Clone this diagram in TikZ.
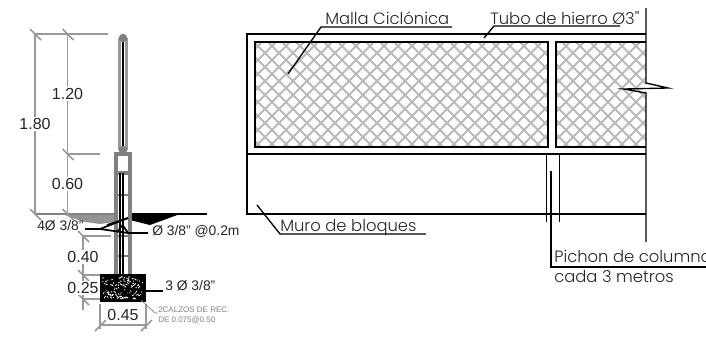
\documentclass[tikz,border=0pt]{standalone}
\usepackage{fontspec}
\setmainfont{Liberation Sans}
\newfontfamily\labelfont[UprightFont=* Light]{Poppins}
\begin{document}
\begin{tikzpicture}[x=0.75pt,y=-0.75pt]
      \useasboundingbox(0,0) rectangle (706,337);
      \tikzset{L/.style = {draw,black,line width=1pt}}
      \tikzset{W/.style = {draw,black,line width=1.1pt}}
      \tikzset{D/.style = {draw,black!40,line width=1.15pt}}
      \tikzset{C/.style = {draw,black!50,line width=3pt}}
      \tikzset{M/.style = {draw,black!27,line width=1.45pt}}
      \tikzset{T/.style = {font=\labelfont\fontsize{12.3}{13}\selectfont,inner sep=0pt,anchor=base west,text=black!85}}
      \tikzset{N/.style = {font=\fontsize{12}{12}\selectfont,fill=white,inner sep=1pt,text=black!85}}
      \tikzset{S/.style = {font=\fontsize{10.4}{12}\selectfont,inner sep=0pt,anchor=west,text=black!85}}
      \tikzset{G/.style = {font=\fontsize{6}{7}\selectfont,inner sep=0pt,anchor=west,text=black!50}}
      % cerca, malla
      \begin{scope}
        \clip (255,42) rectangle (548,147) (556,42) rectangle (646,147);
        \foreach \x in {130,144,...,660} {
          \draw[M](\x,30) -- (\x+130,160);
          \draw[M](\x+130,30) -- (\x,160);
        }
      \end{scope}
      \draw[W](255,42) rectangle (548,147);
      \draw[W](646,42) -- (556,42) -- (556,147) -- (646,147);
      \draw[L](646,34) -- (247,34) -- (247,214) -- (646,214);
      \draw[L](247,154) -- (646,154);
      \draw[L](646,8) -- (646,83) -- (668,88) -- (624,89) -- (646,93) -- (646,242);
      \draw[L](546.3,154) -- (546.3,222);
      \draw[L](559.7,154) -- (559.7,222);
      % textos de la cerca
      \node[T](malla) at (325,24) {Malla Ciclónica};
      \node[T](tubo) at (490,24) {Tubo de hierro Ø3''};
      \node[T](muro) at (280,231) {Muro de bloques};
      \node[T](pichon) at (554,262) {Pichon de columna};
      \node[T](cada) at (554,282) {cada 3 metros};
      \coordinate (mallaA) at (288,74);
      \coordinate (mallaB) at (321,27);
      \coordinate (mallaC) at (452,27);
      \coordinate (tuboA) at (484,38);
      \coordinate (tuboB) at (494,26);
      \coordinate (tuboC) at (620,26);
      \coordinate (muroA) at (257,205);
      \coordinate (muroB) at (280,234);
      \coordinate (muroC) at (426,234);
      \coordinate (pichonA) at (551,171);
      \coordinate (pichonB) at (551,267);
      \coordinate (pichonC) at (706,267);
      \draw[L](mallaA) -- (mallaB) -- (mallaC);
      \draw[L](tuboA) -- (tuboB) -- (tuboC);
      \draw[L](muroA) -- (muroB) -- (muroC);
      \draw[L](pichonA) -- (pichonB) -- (pichonC);
      % terreno
      \fill[black!42](63,214) -- (115,214) -- (115,222) -- (100,224) -- (85,222) -- (72,218) -- cycle;
      \fill[black](130,214) -- (180,214) -- (150,225) -- (130,220) -- cycle;
      \draw[L](130,214) -- (207,214);
      \draw[C,line width=1.8pt](35,214) -- (116,214);
      % poste
      \draw[D,line width=1.6pt](119.5,38) -- (119.5,150);
      \draw[D,line width=1.6pt](126.5,38) -- (126.5,150);
      \draw[L,line width=1.3pt](123,38) -- (123,150);
      \fill[black!50](123,38) circle (3.2pt);
      \fill[black!50](123,150) circle (3.2pt);
      % columna
      \draw[C](116,154) rectangle (130,173);
      \draw[C](116,173) -- (116,275);
      \draw[C](129.5,173) -- (129.5,275);
      \draw[C,line width=1.6pt](116,195) -- (130,195);
      \draw[C,line width=1.6pt](116,236) -- (130,236);
      \draw[C,line width=1.6pt](116,256) -- (130,256);
      \draw[L](120,173) -- (120,275);
      \draw[L](123,173) -- (123,275);
      % estribos
      \coordinate (tieA) at (85,229);
      \coordinate (tieB) at (100,229);
      \coordinate (tieC) at (128,218);
      \coordinate (tieD) at (128,233);
      \coordinate (tieE) at (148,233);
      \draw[L,line width=1.3pt](tieA) -- (tieB) -- (tieC);
      \draw[L,line width=1.3pt](tieB) -- (tieD) -- (tieE);
      \draw[L,line width=1.3pt](107,225) -- (128,218);
      \draw[L,line width=1.3pt](117,232) -- (122.7,225) -- (128,233);
      % zapata
      \fill[black](100,274) rectangle (146,302);
      \pgfmathsetseed{7}
      \foreach \i in {1,...,120} {
        \pgfmathsetmacro{\px}{103+40*rnd}
        \pgfmathsetmacro{\py}{277+22*rnd}
        \pgfmathsetmacro{\qx}{\px+4*rnd-2}
        \pgfmathsetmacro{\qy}{\py+3*rnd-1.5}
        \draw[white,line width=0.6pt](\px,\py) -- (\qx,\qy);
      }
      \draw[L](146,291) -- (163,291);
      % cotas
      \draw[D](35,34) -- (108,34);
      \draw[D](35,34) -- (35,214);
      \draw[D](67.5,34) -- (67.5,214);
      \draw[D](67.5,154) -- (100,154);
      \draw[D](83,236) -- (111,236);
      \draw[D](83,236) -- (83,310);
      \draw[D](83,275) -- (100,275);
      \draw[D](83,299) -- (100,299);
      \draw[D](100,304) -- (100,329);
      \draw[D](146,304) -- (146,329);
      \draw[D](100,325) -- (146,325);
      \foreach \x/\y in {35/34,67.5/34,67.5/154,35/214,67.5/214,83/236,83/275,83/299} {
        \draw[D,line width=1.2pt](\x-5,\y-5) -- (\x+6,\y+6);
      }
      \foreach \x/\y in {100/325,146/325} {
        \draw[D,line width=1.2pt](\x-5,\y+6) -- (\x+6,\y-5);
      }
      \coordinate (calzoA) at (141,300);
      \coordinate (calzoB) at (155,313);
      \coordinate (calzoC) at (158,313);
      \draw[black!50,line width=0.5pt](calzoA) -- (calzoB) -- (calzoC);
      % textos de cotas
      \node[N](d180) at (35,124) {1.80};
      \node[N](d120) at (67.5,94) {1.20};
      \node[N](d060) at (67.5,184) {0.60};
      \node[N](d040) at (83,257) {0.40};
      \node[N](d025) at (83,288) {0.25};
      \node[N](d045) at (123,315) {0.45};
      \node[S](varilla) at (37,226) {4Ø 3/8''};
      \node[S](estribo) at (152,231) {Ø 3/8'' @0.2m};
      \node[S](hierro) at (165,286) {3 Ø 3/8''};
      \node[G](calzo) at (158,310) {2CALZOS DE REC.};
      \node[G](calzob) at (158,320) {DE 0.075@0.50};
    \end{tikzpicture}
\end{document}
